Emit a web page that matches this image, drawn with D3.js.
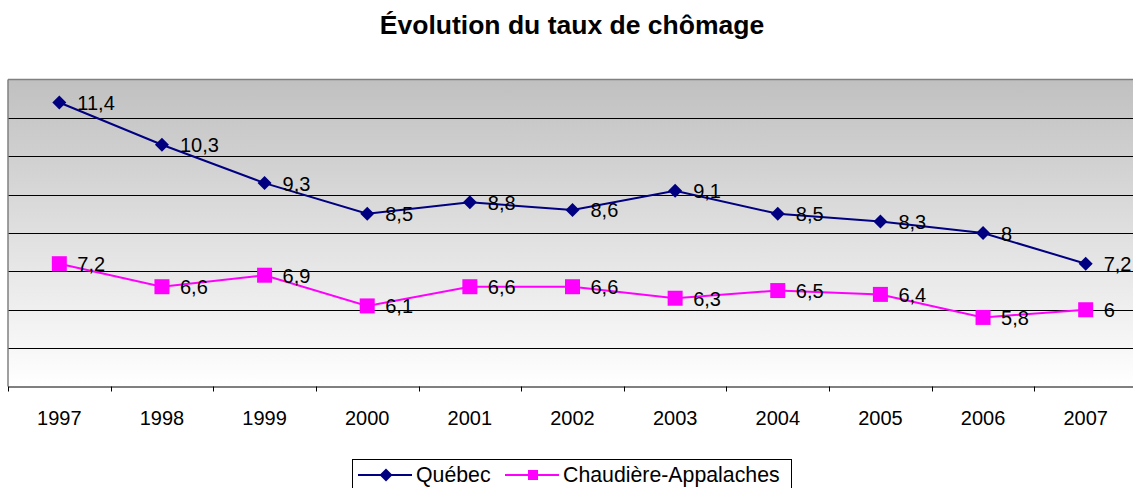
<!DOCTYPE html>
<html>
<head>
<meta charset="utf-8">
<script src="https://cdn.jsdelivr.net/npm/d3@7"></script>
<style>
  body { margin: 0; background: #fff; }
  svg { font-family: "Liberation Sans", Arial, sans-serif; }
</style>
</head>
<body>
<svg id="chart" width="1133" height="488"></svg>
<script>
const years = ['1997', '1998', '1999', '2000', '2001', '2002', '2003', '2004', '2005', '2006', '2007'];
const quebec = [11.4, 10.3, 9.3, 8.5, 8.8, 8.6, 9.1, 8.5, 8.3, 8, 7.2];
const chaudiere = [7.2, 6.6, 6.9, 6.1, 6.6, 6.6, 6.3, 6.5, 6.4, 5.8, 6];
const gridValues = [5, 6, 7, 8, 9, 10, 11];

const svg = d3.select('#chart');
const plotLeft = 8, plotRight = 1137, plotTop = 79.5, plotBottom = 386.5;

const x = d3.scaleBand().domain(years).range([plotLeft, plotRight]);
const y = d3.scaleLinear().domain([4, 12]).range([plotBottom, plotTop]);

// background gradient
const defs = svg.append('defs');
const grad = defs.append('linearGradient')
    .attr('id', 'bg')
    .attr('x1', 0).attr('y1', 0).attr('x2', 0).attr('y2', 1);
grad.append('stop').attr('offset', '0%').attr('stop-color', '#c0c0c0');
grad.append('stop').attr('offset', '100%').attr('stop-color', '#ffffff');

svg.append('rect')
    .attr('x', plotLeft).attr('y', plotTop)
    .attr('width', plotRight - plotLeft).attr('height', plotBottom - plotTop)
    .attr('fill', 'url(#bg)');

svg.append('line')
    .attr('x1', plotLeft).attr('x2', plotRight)
    .attr('y1', plotTop).attr('y2', plotTop)
    .attr('stroke', '#808080').attr('stroke-width', 1.5);

svg.append('g')
    .selectAll('line')
    .data(gridValues)
    .enter()
    .append('line')
    .attr('x1', plotLeft).attr('x2', plotRight)
    .attr('y1', d => Math.round(y(d)) + 0.5)
    .attr('y2', d => Math.round(y(d)) + 0.5)
    .attr('stroke', '#000').attr('stroke-width', 1);

// left border
svg.append('line')
    .attr('x1', plotLeft).attr('x2', plotLeft)
    .attr('y1', plotTop).attr('y2', plotBottom)
    .attr('stroke', '#808080').attr('stroke-width', 1.5);

// x axis
const xAxis = svg.append('g')
    .attr('transform', `translate(0,${plotBottom})`)
    .call(d3.axisBottom(x).tickSize(0).tickPadding(24));
xAxis.select('.domain').attr('stroke', '#000').attr('stroke-width', 1);
xAxis.selectAll('text').attr('font-size', 20).attr('fill', '#000')
    .attr('font-family', '"Liberation Sans", Arial, sans-serif');

svg.append('g')
    .selectAll('line')
    .data(years)
    .enter()
    .append('line')
    .attr('x1', d => Math.round(x(d)) + 0.5)
    .attr('x2', d => Math.round(x(d)) + 0.5)
    .attr('y1', plotBottom).attr('y2', plotBottom + 5)
    .attr('stroke', '#000');

// title
svg.append('text')
    .attr('x', 572).attr('y', 34)
    .attr('text-anchor', 'middle')
    .attr('font-size', 26.5).attr('font-weight', 'bold')
    .text('Évolution du taux de chômage');

const cx = d => x(d) + x.bandwidth() / 2;
const line = d3.line().x((d, i) => cx(years[i])).y(d => y(d));

function drawSeries(values, color, shape) {
    const g = svg.append('g');
    g.append('path')
        .datum(values)
        .attr('fill', 'none')
        .attr('stroke', color)
        .attr('stroke-width', 2)
        .attr('d', line);
    g.selectAll('path.marker')
        .data(values)
        .enter()
        .append('path')
        .attr('class', 'marker')
        .attr('transform', (d, i) => `translate(${cx(years[i])},${y(d)})`)
        .attr('d', shape)
        .attr('fill', color);
    g.selectAll('text')
        .data(values)
        .enter()
        .append('text')
        .attr('x', (d, i) => cx(years[i]) + 18)
        .attr('y', d => y(d) + 7.5)
        .attr('font-size', 20)
        .attr('fill', '#000')
        .text(d => String(d).replace('.', ','));
}

const diamond = 'M0,-7L7,0L0,7L-7,0Z';
const square = 'M-7.5,-7.5H7.5V7.5H-7.5Z';
const diamondSmall = 'M0,-6.5L6.5,0L0,6.5L-6.5,0Z';
const squareSmall = 'M-5,-5H5V5H-5Z';

drawSeries(quebec, '#000080', diamond);
drawSeries(chaudiere, '#ff00ff', square);

// legend
const legend = svg.append('g');
legend.append('rect')
    .attr('x', 352.5).attr('y', 459.5)
    .attr('width', 439).attr('height', 40)
    .attr('fill', '#fff').attr('stroke', '#000');

const legendItems = [
    { name: 'Québec', color: '#000080', shape: diamondSmall, x: 358 },
    { name: 'Chaudière-Appalaches', color: '#ff00ff', shape: squareSmall, x: 505 }
];
legendItems.forEach(it => {
    legend.append('line')
        .attr('x1', it.x).attr('x2', it.x + 54)
        .attr('y1', 475).attr('y2', 475)
        .attr('stroke', it.color).attr('stroke-width', 2);
    legend.append('path')
        .attr('transform', `translate(${it.x + 28},475)`)
        .attr('d', it.shape)
        .attr('fill', it.color);
    legend.append('text')
        .attr('x', it.x + 58).attr('y', 482)
        .attr('font-size', 21.3)
        .text(it.name);
});
</script>
</body>
</html>
